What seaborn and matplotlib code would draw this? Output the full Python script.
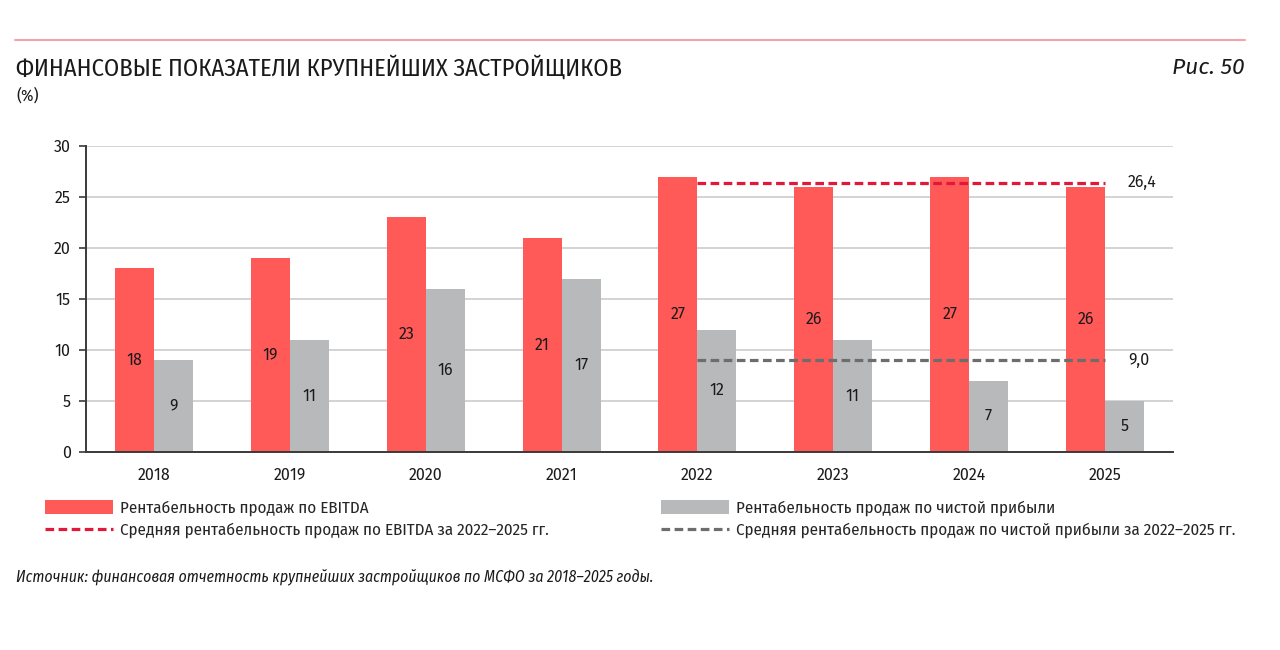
import numpy as np
import pandas as pd
import matplotlib
matplotlib.use("Agg")
import matplotlib.pyplot as plt
import seaborn as sns
from matplotlib.patches import Patch
from matplotlib.lines import Line2D

# ---- данные ----
years = ["2018", "2019", "2020", "2021", "2022", "2023", "2024", "2025"]
ebitda = [18, 19, 23, 21, 27, 26, 27, 26]
net_profit = [9, 11, 16, 17, 12, 11, 7, 5]
avg_years = ["2022", "2025"]
avg_ebitda = 26.4
avg_net = 9.0

s_ebitda = "Рентабельность продаж по EBITDA"
s_net = "Рентабельность продаж по чистой прибыли"
s_avg_ebitda = "Средняя рентабельность продаж по EBITDA за 2022–2025 гг."
s_avg_net = "Средняя рентабельность продаж по чистой прибыли за 2022–2025 гг."

RED = "#FF5A58"
GRAY = "#B8B9BB"
RED_D = "#E1183C"
GRAY_D = "#6B6D6E"
TXT = "#1a1a1a"
COND = ["Fira Sans Condensed", "DejaVu Sans"]
REG = ["Fira Sans", "DejaVu Sans"]
DASH = (0, (2.7, 1.4))

df = pd.DataFrame({
    "year": years * 2,
    "value": ebitda + net_profit,
    "series": [s_ebitda] * len(years) + [s_net] * len(years),
})

sns.set_theme(style="white")
plt.rcParams["font.family"] = REG

fig = plt.figure(figsize=(12.8, 6.5), dpi=100)
ax = fig.add_axes([0.0672, 0.3046, 0.8492, 0.4708])

sns.barplot(data=df, x="year", y="value", hue="series", order=years,
            palette=[RED, GRAY], width=0.574, saturation=1, legend=False,
            linewidth=0, ax=ax, errorbar=None)

for cont in ax.containers:
    ax.bar_label(cont, label_type="center", fontsize=11.5, color=TXT)

# средние линии 2022–2025
x0, x1 = years.index(avg_years[0]), years.index(avg_years[1])
ax.plot([x0, x1], [avg_ebitda, avg_ebitda], color=RED_D, lw=2.3, ls=DASH)
ax.plot([x0, x1], [avg_net, avg_net], color=GRAY_D, lw=2.3, ls=DASH)
ax.text(x1 + 0.17, avg_ebitda, f"{avg_ebitda:.1f}".replace(".", ","),
        va="center", ha="left", fontsize=11.5, color=TXT)
ax.text(x1 + 0.17, avg_net, f"{avg_net:.1f}".replace(".", ","),
        va="center", ha="left", fontsize=11.5, color=TXT)

ax.set_xlim(-0.5, len(years) - 0.5)
ax.set_ylim(0, 30)
ax.set_yticks(range(0, 31, 5))
ax.set_xlabel("")
ax.set_ylabel("")
ax.grid(axis="y", color="#D3D3D3", lw=1.4)
ax.set_axisbelow(True)
for sp in ["top", "right"]:
    ax.spines[sp].set_visible(False)
for sp in ["left", "bottom"]:
    ax.spines[sp].set_color("#3a3a3a")
    ax.spines[sp].set_linewidth(1.4)

ax.set_xticks(np.arange(-0.5, len(years)), minor=True)
ax.tick_params(axis="x", which="major", length=0, labelsize=11.5, pad=11, colors=TXT)
ax.tick_params(axis="x", which="minor", length=5, width=1.2, color="#3a3a3a", direction="out")
ax.tick_params(axis="y", length=5, width=1.2, color="#3a3a3a", labelsize=11.5,
               pad=6, left=True, labelcolor=TXT)

# шапка
fig.add_artist(Line2D([15 / 1280, 1245 / 1280], [1 - 40 / 650, 1 - 40 / 650],
                      color="#F2A3AB", lw=1.5))
fig.text(16 / 1280, 1 - 68 / 650, "ФИНАНСОВЫЕ ПОКАЗАТЕЛИ КРУПНЕЙШИХ ЗАСТРОЙЩИКОВ",
         fontsize=17.6, va="center", ha="left", color=TXT, family=COND)
fig.text(16 / 1280, 1 - 96 / 650, "(%)", fontsize=12, va="center", ha="left",
         color=TXT, family=COND)
fig.text(1245 / 1280, 1 - 68 / 650, "Рис. 50", fontsize=16.5, va="center", ha="right",
         style="italic", color=TXT)

# легенда
leg_kw = dict(frameon=False, handlelength=4.0, handleheight=0.9,
              labelspacing=0.35, handletextpad=0.4, borderaxespad=0, borderpad=0,
              prop={"family": COND, "size": 12.2})
h1 = [Patch(facecolor=RED, edgecolor="none"),
      Line2D([], [], color=RED_D, lw=2.3, ls=DASH)]
h2 = [Patch(facecolor=GRAY, edgecolor="none"),
      Line2D([], [], color=GRAY_D, lw=2.3, ls=DASH)]
fig.legend(h1, [s_ebitda, s_avg_ebitda], loc="upper left",
           bbox_to_anchor=(45 / 1280, 1 - 500 / 650), **leg_kw)
fig.legend(h2, [s_net, s_avg_net], loc="upper left",
           bbox_to_anchor=(661 / 1280, 1 - 500 / 650), **leg_kw)

fig.text(16 / 1280, 1 - 577 / 650,
         "Источник: финансовая отчетность крупнейших застройщиков по МСФО за 2018–2025 годы.",
         fontsize=11.35, style="italic", va="center", ha="left", color=TXT, family=COND)

fig.savefig("out.png", dpi=100, facecolor="white")
